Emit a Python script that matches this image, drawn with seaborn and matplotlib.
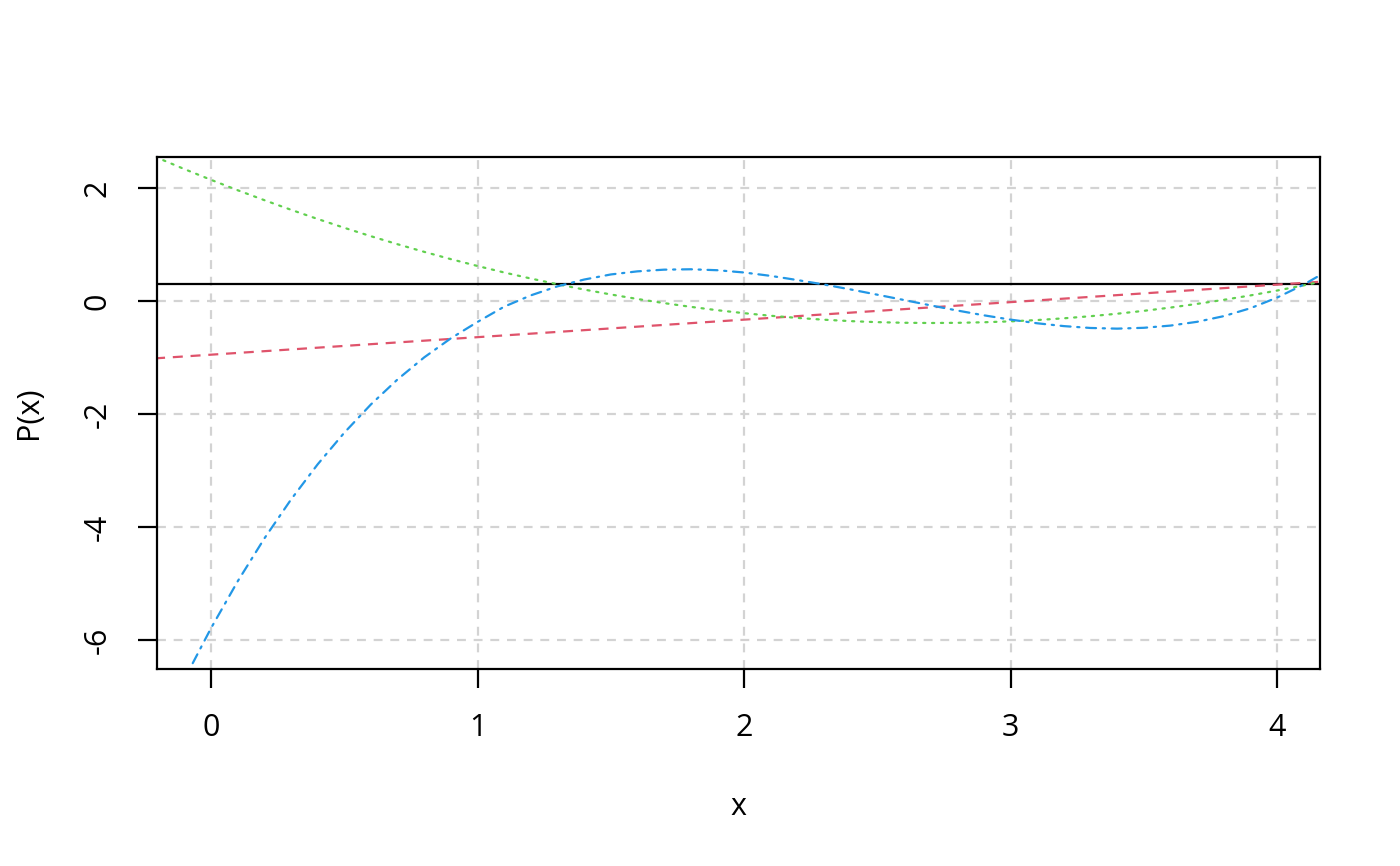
import matplotlib
matplotlib.use("Agg")
import matplotlib.pyplot as plt
import seaborn as sns
import pandas as pd

# sample positions along x (edges slightly past the plot region, clipped)
x_vals = [-0.21, -0.1, 0.0, 0.1, 0.2, 0.3, 0.4, 0.5, 0.6, 0.7, 0.8, 0.9,
          1.0, 1.1, 1.2, 1.3, 1.4, 1.5, 1.6, 1.7, 1.8, 1.9,
          2.0, 2.1, 2.2, 2.3, 2.4, 2.5, 2.6, 2.7, 2.8, 2.9,
          3.0, 3.1, 3.2, 3.3, 3.4, 3.5, 3.6, 3.7, 3.8, 3.9,
          4.0, 4.1, 4.17]

# degree 0 and 1 (straight lines, endpoints only)
p0_x = [-0.21, 4.17]
p0_y = [0.30, 0.30]
p1_x = [-0.21, 4.17]
p1_y = [-1.015, 0.343]

# degree 2
p2_y = [2.553, 2.335, 2.145, 1.961, 1.785, 1.615, 1.452, 1.296, 1.147, 1.005, 0.870, 0.741,
        0.620, 0.505, 0.398, 0.297, 0.203, 0.116, 0.036, -0.037, -0.103, -0.163,
        -0.215, -0.261, -0.299, -0.331, -0.356, -0.374, -0.385, -0.389, -0.386, -0.376,
        -0.360, -0.337, -0.306, -0.269, -0.225, -0.174, -0.116, -0.051, 0.021, 0.099,
        0.185, 0.277, 0.346]

# degree 3
p3_y = [-7.77, -6.693, -5.790, -4.961, -4.203, -3.514, -2.891, -2.331, -1.830, -1.387, -0.997, -0.660,
        -0.370, -0.100, 0.100, 0.260, 0.380, 0.470, 0.525, 0.555, 0.562, 0.545,
        0.505, 0.445, 0.371, 0.292, 0.205, 0.112, 0.018, -0.077, -0.168, -0.253,
        -0.329, -0.394, -0.444, -0.477, -0.489, -0.474, -0.435, -0.368, -0.268, -0.128,
        0.060, 0.290, 0.480]

x_ticks = [0, 1, 2, 3, 4]
y_ticks = [-6, -4, -2, 0, 2]

sns.set_style("white")
plt.rcParams["font.family"] = ["Open Sans", "DejaVu Sans"]
plt.rcParams["font.size"] = 22
plt.rcParams["text.color"] = "black"
plt.rcParams["axes.labelcolor"] = "black"
plt.rcParams["xtick.color"] = "black"
plt.rcParams["ytick.color"] = "black"
plt.rcParams["axes.unicode_minus"] = False

fig = plt.figure(figsize=(14, 8.66), dpi=100)
ax = fig.add_axes([0.1121, 0.2275, 0.8307, 0.5912])

lw = 1.6
ax.set_xticks(x_ticks)
ax.set_yticks(y_ticks)
ax.grid(True, color="#D3D3D3", linestyle=(0, (4, 3.5)), linewidth=lw)
ax.set_axisbelow(True)

sns.lineplot(x=p0_x, y=p0_y, color="black", linewidth=lw, ax=ax)
sns.lineplot(x=p1_x, y=p1_y, color="#DF536B", linewidth=lw, linestyle=(0, (4.5, 3.5)), ax=ax)
sns.lineplot(x=x_vals, y=p2_y, color="#61D04F", linewidth=lw, linestyle=(0, (1, 3)),
             dash_capstyle="round", ax=ax)
sns.lineplot(x=x_vals, y=p3_y, color="#2297E6", linewidth=lw, linestyle=(0, (1, 3, 4.5, 3)),
             dash_capstyle="round", ax=ax)

ax.set_xlim(-0.203, 4.161)
ax.set_ylim(-6.513, 2.549)

for s in ax.spines.values():
    s.set_visible(True)
    s.set_color("black")
    s.set_linewidth(lw)

ax.tick_params(axis="both", direction="out", length=13.7, width=lw, color="black",
               labelcolor="black", labelsize=22, pad=18, bottom=True, left=True)
for lbl in ax.get_yticklabels():
    lbl.set_rotation(90)
    lbl.set_va("center")
    lbl.set_ha("right")

ax.set_xlabel("x", fontsize=22, color="black")
ax.set_ylabel("P(x)", fontsize=22, color="black")
ax.xaxis.set_label_coords(0.5, -0.24)
ax.yaxis.set_label_coords(-0.097, 0.5)

fig.savefig("out.png", dpi=100)
